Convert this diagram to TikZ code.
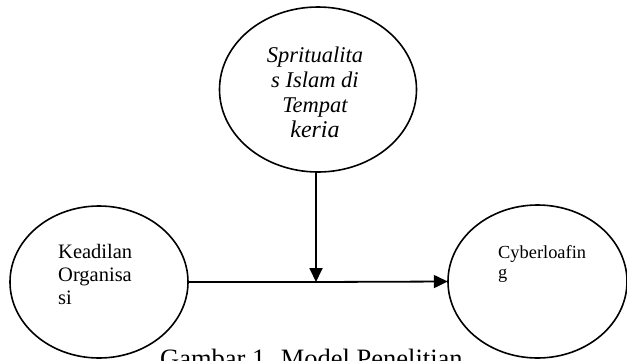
\documentclass[tikz,border=0pt]{standalone}
\usepackage{fontspec}
\setmainfont{Liberation Serif}
\usetikzlibrary{arrows.meta}
\begin{document}
\begin{tikzpicture}[x=1pt,y=-1pt,
  conn/.style={line width=1.8pt,-{Triangle[length=14pt,width=13pt]}},
  lbl/.style={inner sep=0pt,align=left}]
\useasboundingbox (0,0) rectangle (627,360);
\clip (0,0) rectangle (627,360);
% caption (mostly cut off by page edge)
\node[anchor=base west,inner sep=0pt,font=\fontsize{26.5}{30}\selectfont] (cap) at (160,367) {Gambar 1. Model Penelitian};
% ellipses
\draw[line width=1.6pt,fill=white] (318,89.5) ellipse [x radius=98.5, y radius=82.5];
\draw[line width=1.6pt,fill=white] (99,282) ellipse [x radius=89, y radius=76];
\draw[line width=1.6pt,fill=white] (537.5,281.5) ellipse [x radius=89.5, y radius=76.5];
\node[inner sep=0pt,minimum width=197pt,minimum height=165pt] (top) at (316,89.5) {};
\node[inner sep=0pt,minimum width=178pt,minimum height=152pt] (left) at (99,282) {};
\node[inner sep=0pt,minimum width=179pt,minimum height=153pt] (right) at (537.5,281.5) {};
% texts
\node[inner sep=0pt,align=center,anchor=north,font=\itshape\fontsize{22.5}{24.8}\selectfont] (toptext) at (315,47)
  {Spritualita\\s Islam di\\Tempat\\{\fontsize{24}{24.8}\selectfont keria}};
\node[lbl,anchor=north west,font=\fontsize{20.5}{22.8}\selectfont] (lefttext) at (58,244) {Keadilan\\Organisa\\si};
\node[lbl,anchor=north west,font=\fontsize{18.4}{19.5}\selectfont] (righttext) at (498,245.5) {Cyberloafin\\g};
% connectors
\coordinate (j) at (316,282);
\draw[line width=1.8pt] (left.east |- j) -- (j);
\draw[conn] (j) -- (right.west);
\draw[conn] (top.south) -- (j);
\end{tikzpicture}
\end{document}
